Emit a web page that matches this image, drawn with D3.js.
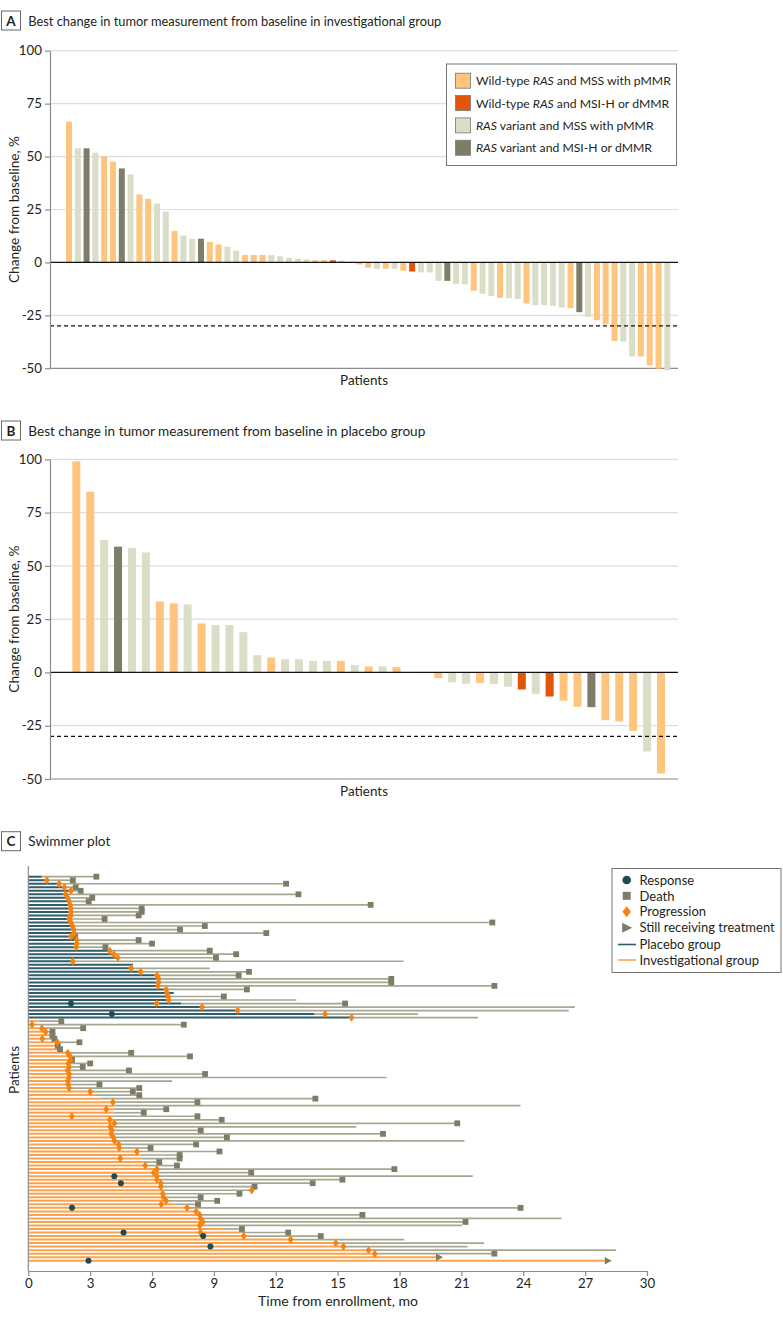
<!DOCTYPE html>
<html>
<head>
<meta charset="utf-8">
<script src="https://cdn.jsdelivr.net/npm/d3@7"></script>
<style>
  html, body { margin: 0; padding: 0; background: #fff; }
  svg { display: block; font-family: Lato, "Open Sans", sans-serif; }
</style>
</head>
<body>
<svg id="chart" width="783" height="1324"></svg>
<script>
// ---------------- DATA ----------------
const groupNames = ["Wild-type RAS and MSS with pMMR", "Wild-type RAS and MSI-H or dMMR",
  "RAS variant and MSS with pMMR", "RAS variant and MSI-H or dMMR"];
const groupCodes = ["O", "R", "G", "D"];

const investValues = [66.5,53.9,53.9,51.8,50.1,47.6,44.4,41.6,32.1,30.0,
  27.8,24.0,14.9,12.7,11.2,11.2,9.7,8.5,7.4,5.5,
  3.5,3.5,3.5,3.5,2.9,2.2,1.8,1.4,1.1,1.1,
  1.0,0.8,0.3,-1.0,-2.5,-3.0,-3.0,-3.0,-3.9,-4.3,
  -4.7,-4.7,-8.7,-8.7,-10.1,-10.4,-13.4,-14.8,-15.8,-16.7,
  -16.9,-17.2,-19.4,-20.2,-20.2,-20.5,-21.3,-21.6,-23.5,-25.7,
  -27.3,-29.2,-37.1,-37.4,-44.4,-44.4,-48.6,-50.2,-50.9];
const investGroups = ["O","G","D","G","O","O","D","G","O","O",
  "G","G","O","G","G","D","O","O","G","G",
  "O","O","O","G","G","G","G","G","O","O",
  "R","O","G","O","O","G","O","G","O","R",
  "G","G","G","D","G","G","O","G","G","O",
  "G","G","O","G","G","G","G","O","D","G",
  "O","O","O","G","G","O","O","O","G"];

const placeboValues = [99.0,84.8,62.1,59.0,58.4,56.3,33.3,32.4,31.9,23.0,
  22.2,22.2,18.9,8.1,7.0,6.2,6.2,5.4,5.4,5.4,
  3.4,2.8,2.8,2.5,0,-0.3,-2.7,-4.6,-5.3,-4.9,
  -5.5,-6.7,-8.0,-10.0,-11.3,-13.3,-16.1,-16.3,-22.4,-23.0,
  -27.4,-37.1,-47.4];
const placeboGroups = ["O","O","G","D","G","G","O","O","G","O",
  "G","G","G","G","O","G","G","G","G","O",
  "G","O","G","O","G","G","O","G","G","O",
  "G","G","R","G","R","O","O","D","O","O",
  "O","G","O"];

const yTicks = [-50, -25, 0, 25, 50, 75, 100];
const responseThreshold = -30;

// Swimmer plot, placebo group (months): treatment end, follow-up end, progression, death, response
const placeboTreat = [0.65,0.9,1.5,1.75,2.07,1.85,1.91,1.98,2.03,2.07,
  2.07,2.07,1.98,2.07,2.14,2.2,2.22,2.07,2.35,2.35,
  2.32,3.95,4.15,4.34,2.2,5.07,5.0,5.45,6.24,6.32,
  6.32,6.29,6.68,7.05,6.8,6.8,7.4,8.43,10.15,13.86,15.6];
const placeboFollow = [3.3,2.16,12.5,2.3,2.54,13.1,3.1,2.93,16.6,5.5,
  5.5,5.35,3.7,22.5,8.56,7.36,11.54,2.27,5.35,6.0,
  3.74,8.8,10.08,9.1,18.2,5.07,8.8,10.7,10.2,17.6,
  17.6,22.6,10.6,7.05,9.48,13.0,15.36,26.5,26.2,18.9,21.8];
const placeboProg = [null,0.9,1.5,1.75,2.07,1.82,1.91,1.98,2.03,2.07,
  2.07,2.07,1.98,2.07,2.14,2.2,2.22,2.07,2.35,2.35,
  2.32,3.95,4.15,4.34,2.16,null,4.99,5.45,6.24,6.32,
  6.32,6.29,6.68,6.73,6.8,6.8,6.22,8.43,10.15,14.39,15.67];
const placeboDeath = [1,1,1,1,1,1,1,1,1,1,
  1,1,1,1,1,1,1,1,1,1,
  1,1,1,1,0,0,0,1,1,1,
  1,1,1,0,1,0,1,0,0,0,0];
const placeboResp = [null,null,null,null,null,null,null,null,null,null,
  null,null,null,null,null,null,null,null,null,null,
  null,null,null,null,null,null,null,null,null,null,
  null,null,null,null,null,null,2.07,null,null,4.05,null];
const placeboOngoing = [0,0,0,0,0,0,0,0,0,0,0,0,0,0,0,0,0,0,0,0,
  0,0,0,0,0,0,0,0,0,0,0,0,0,0,0,0,0,0,0,0,0];

// Swimmer plot, investigational group (months)
const investTreat = [0.5,0.2,0.66,0.84,1.1,0.68,1.41,1.3,1.5,1.91,
  2.03,2.05,1.94,1.98,1.91,1.98,1.98,1.91,1.94,1.98,
  3.0,3.2,3.5,4.1,4.13,4.13,4.13,4.13,4.13,4.17,
  4.17,4.17,4.17,4.17,4.18,4.38,4.41,5.27,5.4,5.5,
  5.6,5.67,6.24,6.24,6.3,6.3,6.43,6.45,6.45,6.52,
  6.56,6.68,7.1,7.7,8.14,8.31,8.35,8.46,8.5,9.4,
  10.3,10.45,12.72,14.91,15.28,16.5,16.8,19.77,27.95];
const investFollow = [1.6,7.54,2.66,1.17,1.17,1.26,2.48,1.43,1.54,4.99,
  7.84,2.12,3.0,2.64,4.88,8.57,17.37,6.97,3.45,5.38,
  5.07,5.38,13.92,8.2,23.87,6.69,5.6,8.2,9.38,20.8,
  15.9,8.36,17.2,9.63,21.15,8.14,5.93,9.27,7.34,7.34,
  6.35,7.21,17.75,10.81,21.55,15.23,13.79,10.97,10.83,10.24,
  8.36,9.16,8.23,23.87,8.14,16.2,25.85,21.2,21.04,10.36,
  12.6,14.18,18.23,22.1,21.3,28.5,22.6,19.77,27.95];
const investProg = [null,0.18,0.66,0.84,null,0.68,1.41,null,null,1.91,
  2.03,2.05,1.94,1.98,1.91,1.98,1.98,1.91,1.94,1.98,
  3.0,null,null,4.1,null,3.78,null,2.11,3.95,4.17,
  3.97,4.05,4.02,4.13,4.18,4.38,4.41,5.27,null,4.46,
  null,5.67,6.24,6.08,6.24,6.24,6.43,6.43,10.83,6.52,
  6.56,6.68,6.45,7.7,8.14,8.31,8.35,8.46,8.31,null,
  8.35,10.45,12.72,14.91,15.28,16.5,16.8,null,null];
const investDeath = [1,1,1,1,1,1,1,1,1,1,
  1,1,1,1,1,1,0,0,1,1,
  1,1,1,1,0,1,1,1,1,1,
  0,1,1,1,0,1,1,1,1,1,
  1,1,1,1,0,1,1,1,0,1,
  1,1,1,1,0,1,0,1,0,1,
  1,1,0,0,0,0,1,0,0];
const investResp = [null,null,null,null,null,null,null,null,null,null,
  null,null,null,null,null,null,null,null,null,null,
  null,null,null,null,null,null,null,null,null,null,
  null,null,null,null,null,null,null,null,null,null,
  null,null,null,null,4.17,null,4.49,null,null,null,
  null,null,null,2.12,null,null,null,null,null,null,
  4.62,8.48,null,null,8.83,null,null,null,2.92];
const investOngoing = [0,0,0,0,0,0,0,0,0,0,0,0,0,0,0,0,0,0,0,0,
  0,0,0,0,0,0,0,0,0,0,0,0,0,0,0,0,0,0,0,0,
  0,0,0,0,0,0,0,0,0,0,0,0,0,0,0,0,0,0,0,0,
  0,0,0,0,0,0,0,1,1];

const monthTicks = [0,3,6,9,12,15,18,21,24,27,30];

// ---------------- STYLE ----------------
const colorOf = { O: "#FFC47E", R: "#E5540B", G: "#DBDDC7", D: "#7E7D67" };
const TEXT = "#231f20";
const AXIS = "#8c8c8c";
const GRID = "#dddddd";
const C_PLACEBO = "#2F5D6B";
const C_INVEST = "#FCA24E";
const C_FOLLOW = "#A7A690";
const C_DEATH = "#7D7C66";
const C_PROG = "#F7830F";
const C_RESP = "#1F4C53";

const svg = d3.select("#chart");

function fitWidth(sel, w) {
  sel.attr("textLength", w).attr("lengthAdjust", "spacingAndGlyphs");
  return sel;
}

function panelLabel(letter, title, cy, titleWidth) {
  svg.append("rect").attr("x", 1.5).attr("y", cy - 9.5).attr("width", 19).attr("height", 19)
    .attr("fill", "#fff").attr("stroke", "#666").attr("stroke-width", 1);
  svg.append("text").attr("x", 11).attr("y", cy + 5).attr("text-anchor", "middle")
    .attr("font-size", 13.5).attr("font-weight", 700).attr("fill", TEXT).text(letter);
  const t = svg.append("text").attr("x", 28.3).attr("y", cy + 5.2).attr("font-size", 13.6)
    .attr("fill", TEXT).text(title);
  fitWidth(t, titleWidth);
}

function waterfall(values, groups, cfg) {
  const y = d3.scaleLinear().domain([-50, 100]).range([cfg.bottom, cfg.top]);
  const x = d3.scalePoint().domain(d3.range(values.length)).range([cfg.first, cfg.last]);
  const g = svg.append("g");
  g.selectAll("line.grid").data(yTicks.filter(t => t !== 0 && t !== -50)).join("line")
    .attr("x1", cfg.left).attr("x2", cfg.right)
    .attr("y1", d => y(d)).attr("y2", d => y(d))
    .attr("stroke", GRID).attr("stroke-width", 1.2);
  g.append("line").attr("x1", cfg.left).attr("x2", cfg.right)
    .attr("y1", y(-50)).attr("y2", y(-50)).attr("stroke", AXIS).attr("stroke-width", 1.2);
  g.selectAll("rect.bar").data(values).join("rect")
    .attr("x", (d, i) => x(i) - cfg.bw / 2)
    .attr("width", cfg.bw)
    .attr("y", d => Math.min(y(d), y(0)))
    .attr("height", d => Math.abs(y(d) - y(0)))
    .attr("fill", (d, i) => colorOf[groups[i]]);
  g.append("line").attr("x1", cfg.left).attr("x2", cfg.right)
    .attr("y1", y(0)).attr("y2", y(0)).attr("stroke", "#111").attr("stroke-width", 1.3);
  g.append("line").attr("x1", cfg.left).attr("x2", cfg.right)
    .attr("y1", y(responseThreshold)).attr("y2", y(responseThreshold))
    .attr("stroke", "#111").attr("stroke-width", 1.2).attr("stroke-dasharray", "4,3");
  const ax = g.append("g").attr("transform", `translate(${cfg.left},0)`)
    .call(d3.axisLeft(y).tickValues(yTicks).tickSize(5).tickSizeOuter(0).tickPadding(3).tickFormat(d => String(d)));
  ax.select(".domain").attr("stroke", AXIS).attr("stroke-width", 1.2);
  ax.selectAll(".tick line").attr("stroke", AXIS).attr("stroke-width", 1.2);
  ax.selectAll(".tick text").attr("font-size", 13.3).attr("fill", TEXT).attr("font-family", "Lato, sans-serif");
  const yl = g.append("text").attr("transform", `translate(18.5,${(cfg.top + cfg.bottom) / 2}) rotate(-90)`)
    .attr("text-anchor", "middle").attr("font-size", 13.8).attr("fill", TEXT).text("Change from baseline, %");
  fitWidth(yl, 147);
  const xl = g.append("text").attr("x", 364).attr("y", cfg.bottom + 17).attr("text-anchor", "middle")
    .attr("font-size", 13.6).attr("fill", TEXT).text("Patients");
  fitWidth(xl, 48);
}

// ----- Panel A -----
panelLabel("A", "Best change in tumor measurement from baseline in investigational group", 20.5, 413);
waterfall(investValues, investGroups, { top: 50.7, bottom: 368.3, left: 50, right: 678, first: 69, last: 667.3, bw: 6 });

// legend A
const legA = svg.append("g");
legA.append("rect").attr("x", 446.5).attr("y", 64).attr("width", 230).attr("height", 101.5)
  .attr("fill", "#fff").attr("stroke", "#777").attr("stroke-width", 1);
groupCodes.forEach((c, i) => {
  const cy = 80.7 + i * 22.35;
  legA.append("rect").attr("x", 455.5).attr("y", cy - 7.5).attr("width", 15).attr("height", 15)
    .attr("fill", colorOf[c]).attr("stroke", "#777").attr("stroke-width", 0.8);
  const t = legA.append("text").attr("x", 476).attr("y", cy + 4.5).attr("font-size", 12.2).attr("fill", TEXT);
  const parts = groupNames[i].split("RAS");
  t.append("tspan").text(parts[0]);
  t.append("tspan").attr("font-style", "italic").text("RAS");
  t.append("tspan").text(parts[1]);
});

// ----- Panel B -----
panelLabel("B", "Best change in tumor measurement from baseline in placebo group", 430.5, 397);
waterfall(placeboValues, placeboGroups, { top: 459.3, bottom: 779, left: 50, right: 678, first: 76.3, last: 661, bw: 8 });

// ----- Panel C -----
panelLabel("C", "Swimmer plot", 841.2, 82);

function buildRows(treat, follow, prog, death, resp, ongoing, group) {
  return treat.map((t, i) => ({ group, t, f: follow[i], p: prog[i], d: death[i], r: resp[i], o: ongoing[i] }));
}
const rows = buildRows(placeboTreat, placeboFollow, placeboProg, placeboDeath, placeboResp, placeboOngoing, "placebo")
  .concat(buildRows(investTreat, investFollow, investProg, investDeath, investResp, investOngoing, "invest"))
  .map((r, i) => Object.assign(r, { i }));

const xC = d3.scaleLinear().domain([0, 30]).range([28.3, 647]);
const yC = d3.scalePoint().domain(d3.range(rows.length)).range([876.7, 1260.7]);
const gC = svg.append("g");

gC.selectAll("line.follow").data(rows.filter(r => r.f > r.t)).join("line")
  .attr("x1", d => xC(d.t)).attr("x2", d => xC(d.f))
  .attr("y1", d => yC(d.i)).attr("y2", d => yC(d.i))
  .attr("stroke", C_FOLLOW).attr("stroke-width", 1.7);
gC.selectAll("line.treat").data(rows).join("line")
  .attr("x1", xC(0)).attr("x2", d => xC(d.t))
  .attr("y1", d => yC(d.i)).attr("y2", d => yC(d.i))
  .attr("stroke", d => d.group === "placebo" ? C_PLACEBO : C_INVEST).attr("stroke-width", 2);

gC.append("line").attr("x1", 28.3).attr("x2", 28.3).attr("y1", 866).attr("y2", 1271)
  .attr("stroke", AXIS).attr("stroke-width", 1.2);
const axC = gC.append("g").attr("transform", "translate(0,1271)")
  .call(d3.axisBottom(xC).tickValues(monthTicks).tickSize(5).tickSizeOuter(0).tickPadding(3));
axC.select(".domain").attr("stroke", AXIS).attr("stroke-width", 1.2);
axC.selectAll(".tick line").attr("stroke", AXIS).attr("stroke-width", 1.2);
axC.selectAll(".tick text").attr("font-size", 13.3).attr("fill", TEXT).attr("font-family", "Lato, sans-serif");

const xt = gC.append("text").attr("x", 338).attr("y", 1306).attr("text-anchor", "middle")
  .attr("font-size", 13.8).attr("fill", TEXT).text("Time from enrollment, mo");
fitWidth(xt, 160);
const ytc = gC.append("text").attr("transform", "translate(18.5,1070) rotate(-90)").attr("text-anchor", "middle")
  .attr("font-size", 13.6).attr("fill", TEXT).text("Patients");
fitWidth(ytc, 48);

// markers
const diamondPath = "M0,-4.2L2.9,0L0,4.2L-2.9,0Z";
const squareSize = 5.8;
gC.selectAll("rect.death").data(rows.filter(r => r.d)).join("rect")
  .attr("x", r => xC(r.f) - squareSize / 2).attr("y", r => yC(r.i) - squareSize / 2)
  .attr("width", squareSize).attr("height", squareSize).attr("fill", C_DEATH);
gC.selectAll("path.prog").data(rows.filter(r => r.p != null)).join("path")
  .attr("d", diamondPath)
  .attr("transform", r => `translate(${xC(r.p)},${yC(r.i)})`)
  .attr("fill", C_PROG);
gC.selectAll("circle.resp").data(rows.filter(r => r.r != null)).join("circle")
  .attr("cx", r => xC(r.r)).attr("cy", r => yC(r.i)).attr("r", 3)
  .attr("fill", C_RESP);
gC.selectAll("path.ongo").data(rows.filter(r => r.o)).join("path")
  .attr("d", "M0,-3.8L7,0L0,3.8Z")
  .attr("transform", r => `translate(${xC(r.t)},${yC(r.i)})`)
  .attr("fill", C_DEATH);

// legend C
const legC = svg.append("g");
legC.append("rect").attr("x", 612).attr("y", 868.5).attr("width", 169).attr("height", 104)
  .attr("fill", "#fff").attr("stroke", "#777").attr("stroke-width", 1);
const legCItems = [
  { label: "Response", kind: "circle" },
  { label: "Death", kind: "square" },
  { label: "Progression", kind: "diamond" },
  { label: "Still receiving treatment", kind: "arrow" },
  { label: "Placebo group", kind: "placebo" },
  { label: "Investigational group", kind: "invest" }
];
const legCY = [880, 895.8, 911.7, 927.7, 944.5, 960];
legCItems.forEach((it, i) => {
  const cy = legCY[i], cx = 626.7;
  if (it.kind === "circle") legC.append("circle").attr("cx", cx).attr("cy", cy).attr("r", 4.3).attr("fill", C_RESP);
  if (it.kind === "square") legC.append("rect").attr("x", cx - 4).attr("y", cy - 4).attr("width", 8).attr("height", 8).attr("fill", C_DEATH);
  if (it.kind === "diamond") legC.append("path").attr("d", "M0,-5.5L4.2,0L0,5.5L-4.2,0Z").attr("transform", `translate(${cx},${cy})`).attr("fill", C_PROG);
  if (it.kind === "arrow") legC.append("path").attr("d", "M-4.5,-5L5.5,0L-4.5,5Z").attr("transform", `translate(${cx},${cy})`).attr("fill", C_DEATH);
  if (it.kind === "placebo") legC.append("line").attr("x1", 618).attr("x2", 636).attr("y1", cy).attr("y2", cy).attr("stroke", C_PLACEBO).attr("stroke-width", 1.6);
  if (it.kind === "invest") legC.append("line").attr("x1", 618).attr("x2", 636).attr("y1", cy).attr("y2", cy).attr("stroke", C_INVEST).attr("stroke-width", 1.6);
  legC.append("text").attr("x", 639.5).attr("y", cy + 4.7).attr("font-size", 13).attr("fill", TEXT).text(it.label);
});
</script>
</body>
</html>
